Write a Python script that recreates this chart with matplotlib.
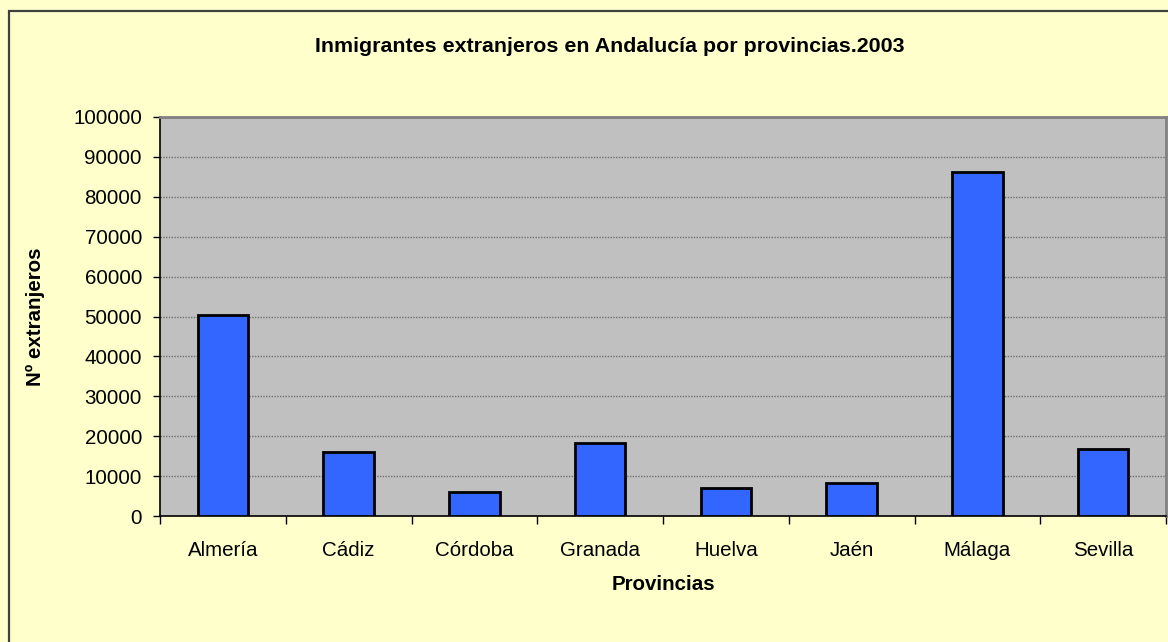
import matplotlib
matplotlib.use("Agg")
import matplotlib.pyplot as plt
from matplotlib.patches import Rectangle
import numpy as np

provincias = ["Almería", "Cádiz", "Córdoba", "Granada", "Huelva", "Jaén", "Málaga", "Sevilla"]
extranjeros = [50400, 16000, 6100, 18300, 7100, 8200, 86200, 16800]
yticks = [0, 10000, 20000, 30000, 40000, 50000, 60000, 70000, 80000, 90000, 100000]

plt.rcParams['font.family'] = ['Liberation Sans', 'DejaVu Sans']

W, H = 1168, 642
fig = plt.figure(figsize=(W / 100, H / 100), dpi=100)
fig.patch.set_facecolor("#FFFFCC")

# outer chart frame
fig.patches.append(Rectangle((9 / W, -0.1), 1.2, (1 - 11 / H) + 0.1, transform=fig.transFigure,
                             fill=False, edgecolor="#404040", linewidth=1.6, zorder=0))

ax = fig.add_axes([160 / W, 1 - 516 / H, (1166 - 160) / W, (516 - 117) / H])
ax.set_facecolor("#C0C0C0")

x = np.arange(len(provincias))
ax.bar(x, extranjeros, width=0.4, color="#3366FF", edgecolor="black", linewidth=2, zorder=3)

ax.set_xlim(-0.5, len(provincias) - 0.5)
ax.set_ylim(0, 100000)
ax.set_yticks(yticks)
ax.set_yticklabels([str(v) for v in yticks], fontsize=14.8)
ax.yaxis.grid(True, color="#707070", linestyle=(0, (1, 1)), linewidth=1, zorder=1)

ax.set_xticks(x)
ax.set_xticklabels(provincias, fontsize=14.8)
ax.set_xticks(np.arange(len(provincias) + 1) - 0.5, minor=True)
ax.tick_params(axis="x", which="major", length=0, pad=18)
ax.tick_params(axis="x", which="minor", length=6, width=1, color="black", direction="out")
ax.tick_params(axis="y", length=5, width=1, color="black", direction="out", pad=8)

for s in ["top", "right"]:
    ax.spines[s].set_color("#808080")
    ax.spines[s].set_linewidth(2)
for s in ["left", "bottom"]:
    ax.spines[s].set_color("black")
    ax.spines[s].set_linewidth(1.2)

ax.set_xlabel("Provincias", fontsize=14.8, fontweight="bold")
ax.set_ylabel("Nº extranjeros", fontsize=14.8, fontweight="bold")
ax.yaxis.set_label_coords((45 - 160) / (1166 - 160), 0.5)
ax.xaxis.set_label_coords(0.5, (516 - 575) / (516 - 117))

fig.text(610 / W, 1 - 47 / H, "Inmigrantes extranjeros en Andalucía por provincias.2003",
         ha="center", va="center", fontsize=15.4, fontweight="bold")

fig.savefig("out.png", dpi=100, facecolor=fig.get_facecolor())
